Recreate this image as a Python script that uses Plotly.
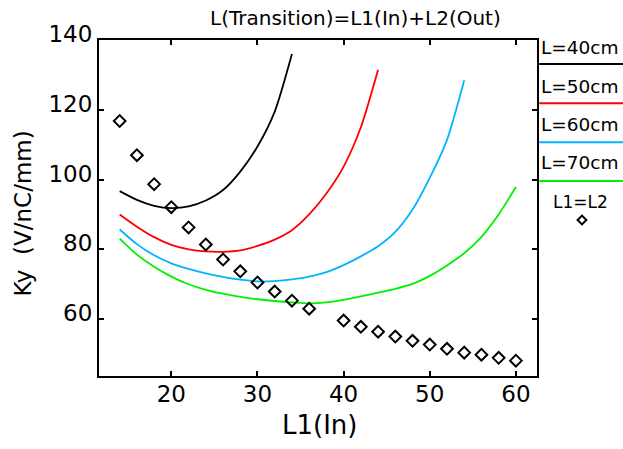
import plotly.graph_objects as go

# Transverse kick factor Ky versus input length L1 for several total transition lengths
l1_40 = [14, 16, 18, 20, 22, 24, 26, 28, 30, 32, 34]
ky_40 = [96.7, 94.2, 92.5, 91.8, 92.3, 94.0, 97.0, 102.3, 109.5, 119.5, 136.0]

l1_50 = [14, 16, 18, 20, 22, 24, 26, 28, 30, 32, 34, 36, 38, 40, 42, 44]
ky_50 = [90.0, 86.5, 83.5, 81.3, 80.0, 79.4, 79.3, 79.7, 81.0, 82.8, 85.5, 90.0,
         96.0, 103.7, 115.0, 131.5]

l1_60 = [14, 16, 18, 20, 22, 24, 26, 28, 30, 32, 34, 36, 38, 40, 42, 44, 46, 48,
         50, 52, 54]
ky_60 = [85.7, 81.5, 78.3, 76.0, 74.4, 73.1, 72.1, 71.3, 70.8, 70.9, 71.4, 72.2,
         73.5, 75.5, 78.0, 80.9, 85.0, 91.4, 100.5, 111.4, 128.5]

l1_70 = [14, 16, 18, 20, 22, 24, 26, 28, 30, 32, 34, 36, 38, 40, 42, 44, 46, 48,
         50, 52, 54, 56, 58, 60]
ky_70 = [83.1, 78.5, 75.0, 72.2, 70.0, 68.4, 67.3, 66.4, 65.7, 65.2, 64.8, 64.5,
         64.8, 65.5, 66.5, 67.6, 68.7, 70.1, 72.4, 75.4, 78.9, 83.6, 90.0, 97.9]

# Symmetric case L1 = L2
l1_sym = [14, 16, 18, 20, 22, 24, 26, 28, 30, 32, 34, 36, 40, 42, 44, 46, 48, 50,
          52, 54, 56, 58, 60]
ky_sym = [116.8, 107.0, 98.7, 92.1, 86.3, 81.4, 77.1, 73.7, 70.5, 67.9, 65.3, 63.0,
          59.6, 57.8, 56.4, 55.0, 53.8, 52.7, 51.5, 50.4, 49.8, 48.9, 48.1]

series_names = ["L=40cm", "L=50cm", "L=60cm", "L=70cm"]
series_colors = ["#000000", "#ff0000", "#00b4ff", "#00f000"]
x_ticks = [20, 30, 40, 50, 60]
y_ticks = [60, 80, 100, 120, 140]

FONT = "DejaVu Sans"

fig = go.Figure()
for xs, ys, name, col in zip([l1_40, l1_50, l1_60, l1_70],
                             [ky_40, ky_50, ky_60, ky_70],
                             series_names, series_colors):
    fig.add_trace(go.Scatter(x=xs, y=ys, mode="lines", name=name,
                             line=dict(color=col, width=1.8, shape="spline",
                                       smoothing=0.7),
                             showlegend=False))

fig.add_trace(go.Scatter(x=l1_sym, y=ky_sym, mode="markers", name="L1=L2",
                         marker=dict(symbol="diamond-open", size=9,
                                     color="#000000", line=dict(width=2)),
                         showlegend=False))

axis_common = dict(showgrid=False, zeroline=False, showline=True,
                   linecolor="#000000", linewidth=2, mirror="ticks",
                   ticks="inside", ticklen=5, tickwidth=1.5,
                   tickcolor="#000000",
                   tickfont=dict(family=FONT, size=23, color="#000000"))

fig.update_xaxes(range=[11.6, 62.45], tickvals=x_ticks,
                 ticktext=[str(v) for v in x_ticks], ticklabelstandoff=-4,
                 **axis_common)
fig.update_yaxes(range=[43.7, 140.02], tickvals=y_ticks,
                 ticktext=[str(v) for v in y_ticks], ticklabelshift=-6,
                 **axis_common)

annotations = [
    dict(text="L(Transition)=L1(In)+L2(Out)", xref="paper", yref="paper",
         x=0.585, y=1.065, xanchor="center", yanchor="middle",
         showarrow=False, font=dict(family=FONT, size=20, color="#000000")),
    dict(text="L1(In)", xref="paper", yref="paper", x=0.503, y=-0.145,
         xanchor="center", yanchor="middle", showarrow=False,
         font=dict(family=FONT, size=26, color="#000000")),
    dict(text="Ky  (V/nC/mm)", xref="paper", yref="paper", x=-0.1723, y=0.482,
         xanchor="center", yanchor="middle", textangle=-90, showarrow=False,
         font=dict(family=FONT, size=23, color="#000000")),
]

shapes = []
# Legend at the right edge: label above a coloured line
legend_text_y = [0.979, 0.863, 0.75, 0.6354]
legend_line_y = [0.9286, 0.8116, 0.6955, 0.5804]
for name, col, ty, ly in zip(series_names, series_colors, legend_text_y,
                             legend_line_y):
    annotations.append(dict(text=name, xref="paper", yref="paper", x=1.005,
                            y=ty, xanchor="left", yanchor="middle",
                            showarrow=False,
                            font=dict(family=FONT, size=18.5, color="#000000")))
    shapes.append(dict(type="line", xref="paper", yref="paper", x0=1.005,
                       x1=1.2, y0=ly, y1=ly,
                       line=dict(color=col, width=2)))

annotations.append(dict(text="L1=L2", xref="paper", yref="paper", x=1.0988,
                        y=0.5179, xanchor="center", yanchor="middle",
                        showarrow=False,
                        font=dict(family=FONT, size=17, color="#000000")))
cx, cy, hx, hy = 1.1027, 0.4643, 0.0100, 0.0130
shapes.append(dict(type="path", xref="paper", yref="paper",
                   path=f"M {cx - hx},{cy} L {cx},{cy + hy} L {cx + hx},{cy} "
                        f"L {cx},{cy - hy} Z",
                   line=dict(color="#000000", width=2)))

fig.update_layout(width=623, height=449,
                  margin=dict(l=98.5, r=86.3, t=40, b=73),
                  paper_bgcolor="#ffffff", plot_bgcolor="#ffffff",
                  annotations=annotations, shapes=shapes,
                  font=dict(family=FONT, color="#000000"))

fig.write_html("out.html")
